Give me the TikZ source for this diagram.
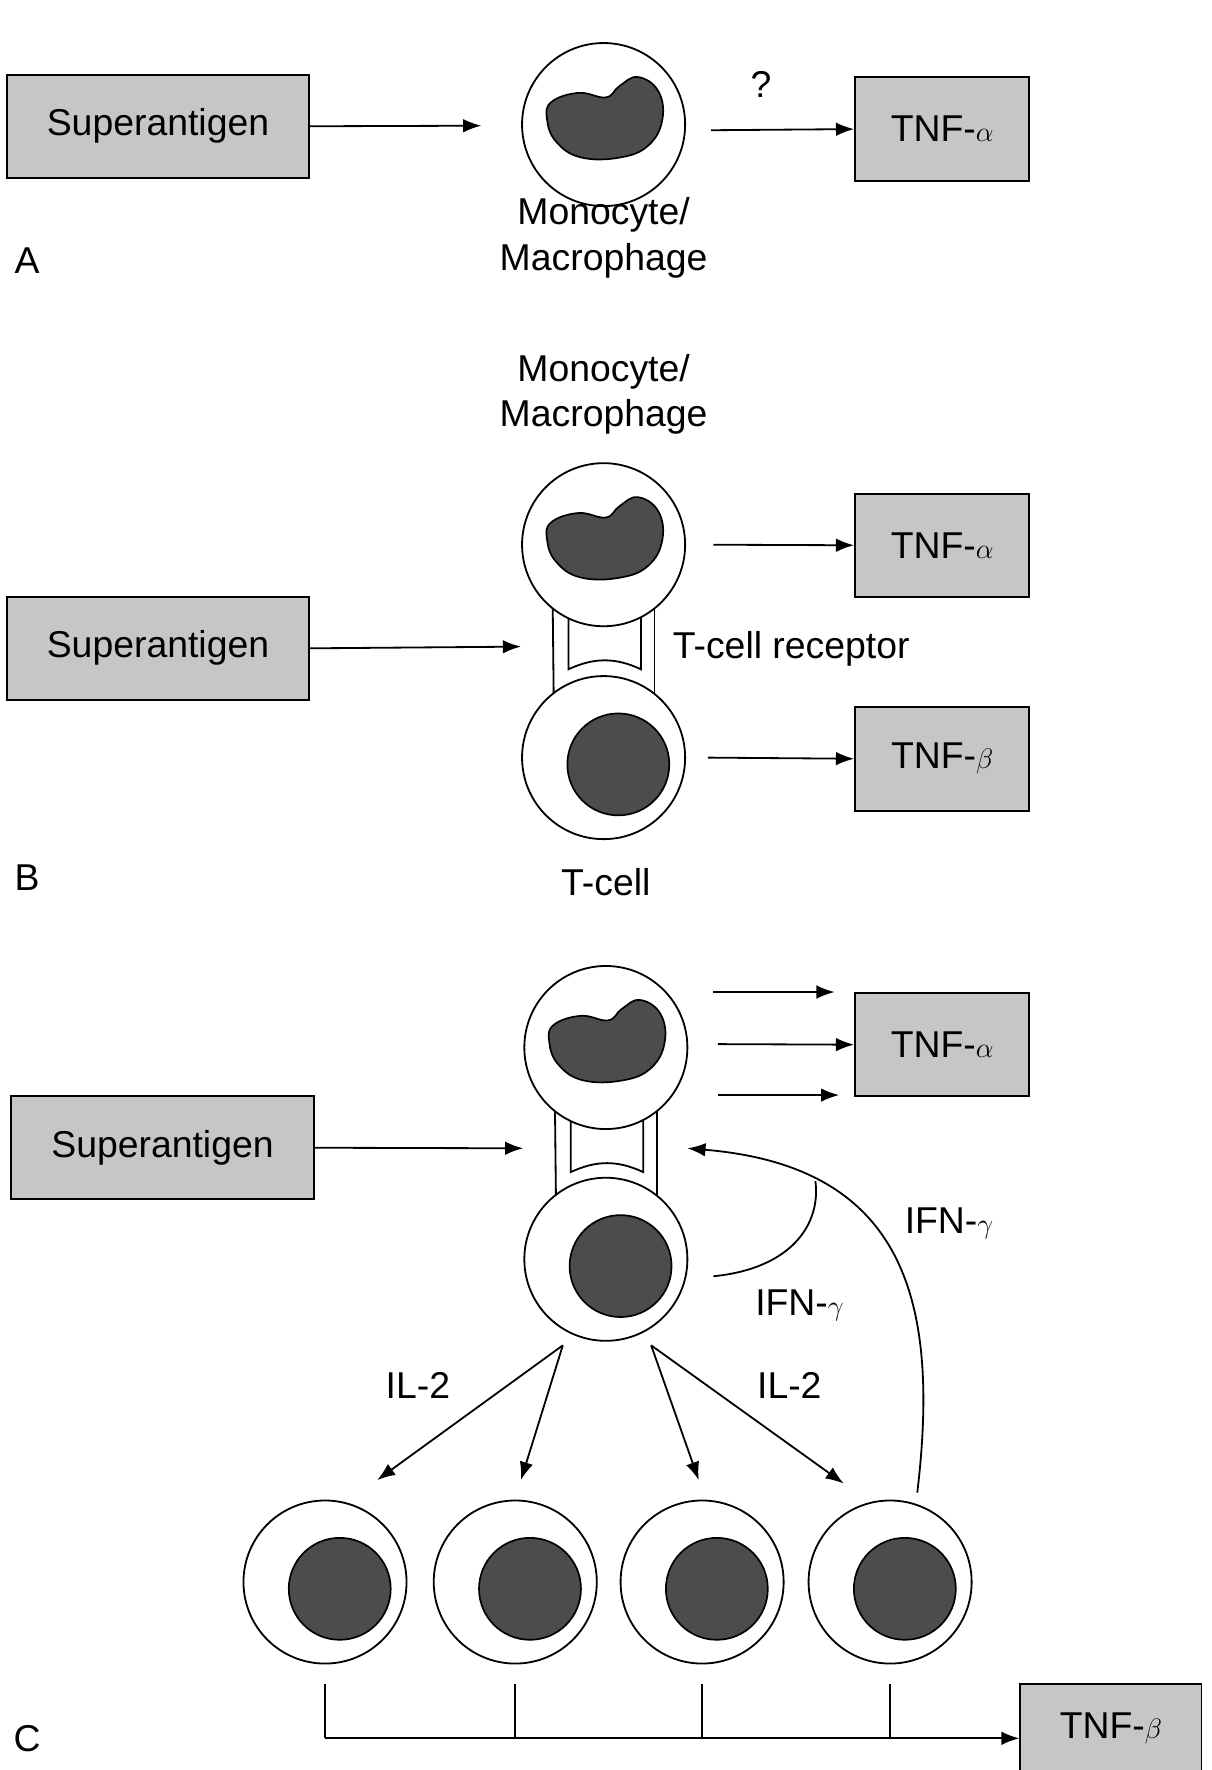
\documentclass[tikz,border=0pt]{standalone}
\usepackage{fontspec}
\setmainfont{Liberation Sans}
\usetikzlibrary{arrows.meta}
\begin{document}
\begin{tikzpicture}[x=1pt,y=-1pt,line width=1.6pt,
  txt/.style={font=\fontsize{33}{40}\selectfont,align=center},
  box/.style={draw,fill=gray!45,line width=1.6pt},
  arr/.style={-{Latex[length=16pt,width=12pt]}},
  nuc/.style={fill=black!70,draw=black,line width=1.5pt}]
\useasboundingbox (0,0) rectangle (1070,1563);
\def\mono#1#2{%
  \draw[fill=white] (#1,#2) circle[radius=72pt];
  \draw[nuc,shift={(#1,#2)}] plot[smooth cycle,tension=0.7] coordinates{(-46,-20) (-22,-28) (2,-24) (14,-34) (30,-42) (48,-30) (52,-5) (40,18) (15,29) (-20,29) (-42,15) (-50,-5)};}
\def\tcell#1#2{%
  \draw[fill=white] (#1,#2) circle[radius=72pt];
  \draw[nuc] (#1+13,#2+6) circle[radius=45pt];}
\def\rec#1#2{%
  \draw (#1-45,#2+48) -- (#1-44,#2+140);
  \draw (#1+45,#2+48) -- (#1+45,#2+140);
  \draw (#1-31,#2+60) -- (#1-31,#2+110) to[bend left=25] (#1+33,#2+110) -- (#1+33,#2+60);}
% ---- A
\node[box,minimum width=267pt,minimum height=91pt,txt] (sa) at (139.5,111.5) {Superantigen};
\mono{533}{110}
\coordinate (ma) at (425,111);
\draw[arr] (sa.east) -- (ma);
\node[txt] (mla) at (533,210) {Monocyte/\\Macrophage};
\node[box,minimum width=154pt,minimum height=92pt,txt] (ta) at (832,114) {TNF-$\alpha$};
\coordinate (a1) at (628,115);
\draw[arr] (a1) -- (ta.west);
\node[txt] (q) at (672,75) {?};
\node[txt] (A) at (24,230) {A};
% ---- B
\node[txt] (mlb) at (533,348) {Monocyte/\\Macrophage};
\rec{533}{481}
\mono{533}{481}
\tcell{533}{669}
\node[box,minimum width=267pt,minimum height=91pt,txt] (sb) at (139.5,572.5) {Superantigen};
\coordinate (mb) at (460,571);
\draw[arr] (sb.east) -- (mb);
\node[txt,anchor=west] (tcr) at (590,573) {T-cell receptor};
\node[box,minimum width=154pt,minimum height=91pt,txt] (tb1) at (832,481.5) {TNF-$\alpha$};
\node[box,minimum width=154pt,minimum height=92pt,txt] (tb2) at (832,670) {TNF-$\beta$};
\coordinate (b1) at (630,481); \coordinate (b2) at (625,669);
\draw[arr] (b1) -- (tb1.west);
\draw[arr] (b2) -- (tb2.west);
\node[txt] (tc) at (535,779) {T-cell};
\node[txt] (B) at (24,775) {B};
% ---- C
\rec{535}{925}
\mono{535}{925}
\tcell{535}{1112}
\node[box,minimum width=154pt,minimum height=91pt,txt] (tc1) at (832,922.5) {TNF-$\alpha$};
\coordinate (c1) at (630,876); \coordinate (c1e) at (737,876);
\coordinate (c2) at (634,922); \coordinate (c3) at (634,967); \coordinate (c3e) at (741,967);
\draw[arr] (c1) -- (c1e);
\draw[arr] (c2) -- (tc1.west);
\draw[arr] (c3) -- (c3e);
\node[box,minimum width=267pt,minimum height=91pt,txt] (sc) at (143.5,1013.5) {Superantigen};
\coordinate (mc) at (462,1014);
\draw[arr] (sc.east) -- (mc);
\coordinate (f0) at (810,1318); \coordinate (f1) at (607,1014); \coordinate (j) at (720,1043);
\draw[arr] (f0) .. controls (830,1150) and (800,1030) .. (f1);
\coordinate (g0) at (630,1127);
\draw (g0) .. controls (700,1120) and (725,1080) .. (j);
\node[txt] (ifn1) at (838,1080) {IFN-$\gamma$};
\node[txt] (ifn2) at (706,1153) {IFN-$\gamma$};
\coordinate (s1) at (497,1188); \coordinate (s2) at (575,1188);
\coordinate (e1) at (333,1307); \coordinate (e2) at (460,1307);
\coordinate (e3) at (617,1307); \coordinate (e4) at (745,1310);
\draw[arr] (s1) -- (e1); \draw[arr] (s1) -- (e2);
\draw[arr] (s2) -- (e3); \draw[arr] (s2) -- (e4);
\node[txt] (il1) at (369,1223) {IL-2};
\node[txt] (il2) at (697,1223) {IL-2};
\foreach \x in {287,455,620,786} {\tcell{\x}{1397}}
\node[box,minimum width=160pt,minimum height=78pt,txt] (tc2) at (981,1526) {TNF-$\beta$};
\foreach \x in {287,455,620,786} {\draw (\x,1487) -- (\x,1535);}
\coordinate (h0) at (287,1535);
\draw[arr] (h0) -- (tc2.west |- h0);
\node[txt] (C) at (24,1535) {C};
\end{tikzpicture}
\end{document}
